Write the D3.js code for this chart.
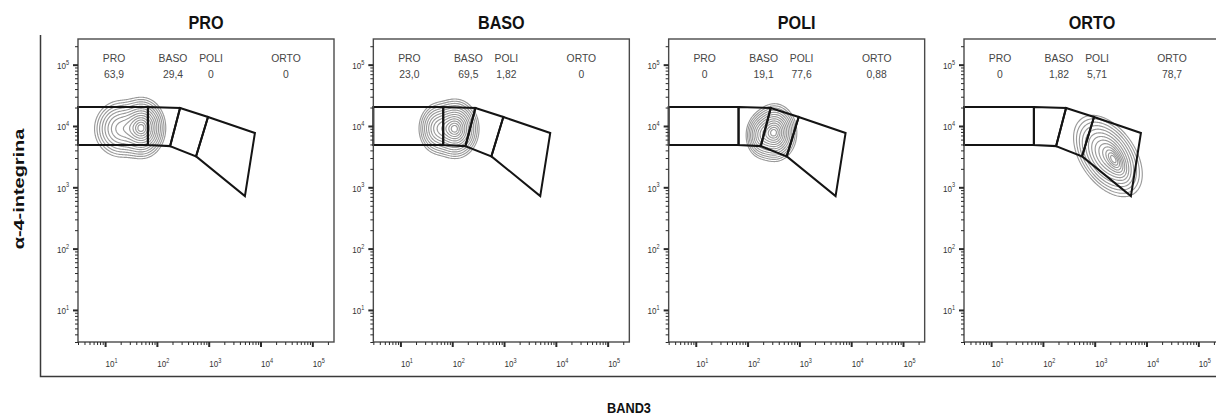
<!DOCTYPE html>
<html>
<head>
<meta charset="utf-8">
<script src="https://cdn.jsdelivr.net/npm/d3@7"></script>
<style>
  body { margin: 0; background: #fff; }
  svg { display: block; }
</style>
</head>
<body>
<svg id="chart" width="1216" height="416"></svg>
<script>
// ---- data -------------------------------------------------------------
// Sample panels (sorted populations) and the four gates drawn in each.
const panels = ["PRO", "BASO", "POLI", "ORTO"];
const gateNames = ["PRO", "BASO", "POLI", "ORTO"];

// Percentage of events inside each gate, per panel (same order as gateNames).
const gatePercents = [
  ["63,9", "29,4", "0", "0"],
  ["23,0", "69,5", "1,82", "0"],
  ["0", "19,1", "77,6", "0,88"],
  ["0", "1,82", "5,71", "78,7"]
];

// Gate outlines as [BAND3, α-4-integrina] fluorescence values.
const gatePRO  = [[3, 20400], [67, 20400], [67, 4900], [3, 4900]];
const gateBASO = [[67, 20400], [280, 19600], [180, 4700], [67, 4900]];
const gatePOLI = [[280, 19600], [970, 14000], [570, 3200], [180, 4700]];
const gateORTO = [[970, 14000], [7800, 7700], [5000, 720], [570, 3200]];

// Event density of each sample, described by its modes:
// [BAND3 centre, α-4 centre, spread x (decades), spread y (decades), correlation, relative height]
const densityPRO  = [[52, 9300, 0.17, 0.185, 0, 1], [20, 9000, 0.21, 0.19, 0, 0.5]];
const densityBASO = [[115, 9000, 0.17, 0.18, 0, 1], [52, 9100, 0.15, 0.17, 0, 0.45]];
const densityPOLI = [[331, 7800, 0.16, 0.175, 0, 1], [178, 7000, 0.12, 0.15, 0, 0.35]];
const densityORTO = [[1800, 3240, 0.26, 0.26, -0.45, 1], [2510, 2690, 0.12, 0.15, -0.6, 0.6]];

// Contour levels, as fractions of each panel's peak density.
const contourLevels = [0.956, 0.882, 0.783, 0.667, 0.546, 0.430, 0.325, 0.236, 0.164, 0.110, 0.071, 0.044, 0.026];

// Axis range and decade labels (both axes share the same log range).
const axisDomain = [3, 262144];
const decadeExponents = [1, 2, 3, 4, 5];

// ---- layout -----------------------------------------------------------
const plotW = 256, plotH = 303, plotTop = 39;
const gateLabelX = [36, 95, 133, 208];   // horizontal centres of the gate readouts within a plot

const svg = d3.select("#chart");
const gates = [gatePRO, gateBASO, gatePOLI, gateORTO];
const densities = [densityPRO, densityBASO, densityPOLI, densityORTO];

const panelX = d3.scalePoint().domain(panels).range([78, 964]);
const x = d3.scaleLog().domain(axisDomain).range([0, plotW]);
const y = d3.scaleLog().domain(axisDomain).range([plotH, 0]);

const majorTicks = decadeExponents.map(e => Math.pow(10, e));
const minorTicks = [];
for (let e = 0; e <= 5; e++) {
  for (let m = 2; m <= 9; m++) {
    const v = m * Math.pow(10, e);
    if (v >= axisDomain[0] && v <= axisDomain[1]) minorTicks.push(v);
  }
}

const fontNarrow = "Liberation Sans, Arial, sans-serif";

// Outer frame shared by all panels (left and bottom only)
svg.append("path")
  .attr("d", "M40.5,35V376.5H1216")
  .attr("fill", "none")
  .attr("stroke", "#3a3a3a")
  .attr("stroke-width", 1.5);

// Shared axis titles
svg.append("text")
  .attr("transform", "translate(24,189) rotate(-90) scale(1.33,1)")
  .attr("text-anchor", "middle")
  .attr("font-family", fontNarrow)
  .attr("font-weight", "bold")
  .attr("font-size", 15)
  .attr("fill", "#111")
  .text("α-4-integrina");

svg.append("text")
  .attr("transform", "translate(629,413) scale(0.85,1)")
  .attr("text-anchor", "middle")
  .attr("font-family", fontNarrow)
  .attr("font-weight", "bold")
  .attr("font-size", 15)
  .attr("fill", "#111")
  .text("BAND3");

// Density grid resolution in log space
const nx = 256, ny = 303;
const lx0 = Math.log10(axisDomain[0]), lx1 = Math.log10(axisDomain[1]);

function densityGrid(modes) {
  const values = new Float64Array(nx * ny);
  for (let j = 0; j < ny; j++) {
    const ly = lx1 - (j + 0.5) * (lx1 - lx0) / ny;
    for (let i = 0; i < nx; i++) {
      const lx = lx0 + (i + 0.5) * (lx1 - lx0) / nx;
      let s = 0;
      for (const [cx, cy, sx, sy, rho, w] of modes) {
        const dx = (lx - Math.log10(cx)) / sx;
        const dy = (ly - Math.log10(cy)) / sy;
        const z = (dx * dx - 2 * rho * dx * dy + dy * dy) / (1 - rho * rho);
        s += w * Math.exp(-z / 2);
      }
      values[j * nx + i] = s;
    }
  }
  return values;
}

// Grid coordinates -> plot pixels through the log scales
const gridToPlot = d3.geoTransform({
  point(gx, gy) {
    const vx = Math.pow(10, lx0 + gx * (lx1 - lx0) / nx);
    const vy = Math.pow(10, lx1 - gy * (lx1 - lx0) / ny);
    this.stream.point(x(vx), y(vy));
  }
});
const contourPath = d3.geoPath(gridToPlot);

function decadeLabel(sel) {
  sel.each(function (v) {
    const t = d3.select(this);
    t.append("tspan").attr("font-size", 9.5).text("10");
    t.append("tspan").attr("font-size", 6.5).attr("dy", -4.5).text(Math.round(Math.log10(v)));
  });
}

panels.forEach((name, p) => {
  const g = svg.append("g")
    .attr("transform", `translate(${panelX(name)},${plotTop})`);

  // Panel title
  svg.append("text")
    .attr("transform", `translate(${panelX(name) + plotW / 2},29) scale(0.9,1)`)
    .attr("text-anchor", "middle")
    .attr("font-family", fontNarrow)
    .attr("font-weight", "bold")
    .attr("font-size", 18)
    .attr("fill", "#111")
    .text(name);

  const clipId = `clip-${p}`;
  g.append("clipPath").attr("id", clipId)
    .append("rect").attr("width", plotW).attr("height", plotH);

  // Density contours
  const values = densityGrid(densities[p]);
  const peak = d3.max(values);
  const contours = d3.contours()
    .size([nx, ny])
    .thresholds(contourLevels.map(f => f * peak))(values);
  g.append("g")
    .attr("clip-path", `url(#${clipId})`)
    .selectAll("path")
    .data(contours)
    .join("path")
    .attr("d", contourPath)
    .attr("fill", "none")
    .attr("stroke", "#9a9a9a")
    .attr("stroke-width", 1.15);

  // Gates
  const gateLine = d3.line().x(d => x(d[0])).y(d => y(d[1]));
  g.append("g")
    .selectAll("path")
    .data(gates)
    .join("path")
    .attr("d", d => gateLine(d) + "Z")
    .attr("fill", "none")
    .attr("stroke", "#141414")
    .attr("stroke-width", 2)
    .attr("stroke-linejoin", "miter");

  // Gate readouts
  const readout = g.append("g")
    .attr("font-family", fontNarrow)
    .attr("font-size", 11.5)
    .attr("fill", "#454545");
  gateNames.forEach((gn, k) => {
    readout.append("text")
      .attr("transform", `translate(${gateLabelX[k]},23) scale(0.9,1)`)
      .attr("text-anchor", "middle")
      .text(gn);
    readout.append("text")
      .attr("transform", `translate(${gateLabelX[k]},39) scale(0.9,1)`)
      .attr("text-anchor", "middle")
      .text(gatePercents[p][k]);
  });

  // Plot frame
  g.append("rect")
    .attr("x", 0).attr("y", 0)
    .attr("width", plotW).attr("height", plotH)
    .attr("fill", "none")
    .attr("stroke", "#4a4a4a")
    .attr("stroke-width", 1.4);

  // Axes: minor ticks, then major ticks with decade labels
  const axisStyle = sel => {
    sel.select(".domain").remove();
    sel.selectAll(".tick line").attr("stroke", "#2a2a2a");
  };
  g.append("g")
    .call(d3.axisLeft(y).tickValues(minorTicks).tickSize(3).tickFormat(() => ""))
    .call(axisStyle);
  g.append("g")
    .attr("transform", `translate(0,${plotH})`)
    .call(d3.axisBottom(x).tickValues(minorTicks).tickSize(3).tickFormat(() => ""))
    .call(axisStyle);

  const yMajor = g.append("g")
    .call(d3.axisLeft(y).tickValues(majorTicks).tickSize(5).tickFormat(() => ""))
    .call(axisStyle);
  yMajor.selectAll(".tick line").attr("stroke-width", 2);
  yMajor.selectAll(".tick text").remove();
  yMajor.selectAll(".tick").append("text")
    .attr("transform", "translate(-9,4) scale(0.85,1)")
    .attr("text-anchor", "end")
    .attr("font-family", fontNarrow)
    .attr("fill", "#333")
    .call(decadeLabel);

  const xMajor = g.append("g")
    .attr("transform", `translate(0,${plotH})`)
    .call(d3.axisBottom(x).tickValues(majorTicks).tickSize(5).tickFormat(() => ""))
    .call(axisStyle);
  xMajor.selectAll(".tick line").attr("stroke-width", 2);
  xMajor.selectAll(".tick text").remove();
  xMajor.selectAll(".tick").append("text")
    .attr("transform", "translate(6,25) scale(0.85,1)")
    .attr("text-anchor", "middle")
    .attr("font-family", fontNarrow)
    .attr("fill", "#333")
    .call(decadeLabel);
});
</script>
</body>
</html>
